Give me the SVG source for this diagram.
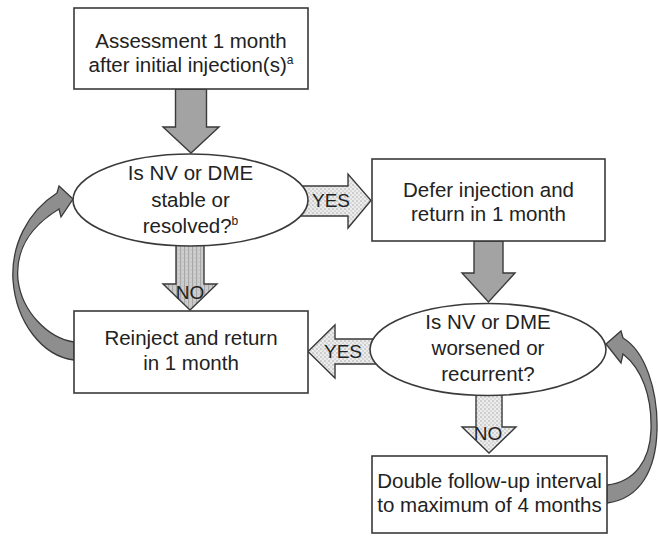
<svg xmlns="http://www.w3.org/2000/svg" width="658" height="536" viewBox="0 0 658 536">
<defs>
<style>
.box{fill:#fff;stroke:#3a3a3a;stroke-width:1.6}
.ell{fill:#fff;stroke:#3a3a3a;stroke-width:1.6}
.t{font-family:"Liberation Sans",Arial,sans-serif;font-size:20.5px;fill:#222;text-anchor:middle}
.lbl{font-family:"Liberation Sans",Arial,sans-serif;font-size:19px;fill:#222;text-anchor:middle}
.sup{font-size:12px}
.main{fill:#a3a3a3;stroke:#3a3a3a;stroke-width:1.4;stroke-linejoin:miter}
.curve{fill:#8e8e8e;stroke:#3a3a3a;stroke-width:1.3;stroke-linejoin:miter}
.dot{fill:url(#dots);stroke:#3a3a3a;stroke-width:1.4}
.stripe{fill:url(#stripes);stroke:#3a3a3a;stroke-width:1.4}
</style>
<pattern id="dots" width="4" height="4" patternUnits="userSpaceOnUse">
<rect width="4" height="4" fill="#ececec"/>
<circle cx="1" cy="1" r="0.7" fill="#9a9a9a"/>
<circle cx="3" cy="3" r="0.7" fill="#b5b5b5"/>
</pattern>
<pattern id="stripes" width="4" height="4" patternUnits="userSpaceOnUse">
<rect width="4" height="4" fill="#cfcfcf"/>
<rect width="1.2" height="4" fill="#a8a8a8"/>
<circle cx="3" cy="2" r="0.6" fill="#b0b0b0"/>
</pattern>
</defs>
<rect width="658" height="536" fill="#fff"/>
<g id="connectors">
<path class="main" d="M175.5,89 L206.5,89 L206.5,127 L219,127 L191,153 L163,127 L175.5,127 Z"/>
<path class="main" d="M474,241 L503,241 L503,273 L515,273 L488.5,302 L462,273 L474,273 Z"/>
<path class="dot" d="M300,186 L348,186 L348,174 L371,200.5 L348,228 L348,216 L300,216 Z"/>
<path class="dot" d="M385,339 L335,339 L335,325 L308,351.5 L335,378 L335,364 L385,364 Z"/>
<path class="stripe" d="M176,235 L204,235 L204,284 L217,284 L190,310 L163,284 L176,284 Z"/>
<path class="dot" d="M476,385 L502,385 L502,427 L516,427 L489,453 L462,427 L476,427 Z"/>
<path class="curve" d="M73,199 L59,186 L57,193 C27,212 11,246 13,280 C16,322 42,356 74,360 L74,342 C48,338 22,312 18,280 C15,250 31,226 59,209 L61,217 Z"/>
<path class="curve" d="M606,344 L621,331 L623,338 C645,351 658,390 657,430 C656,470 640,499 607,503 L607,485 C635,482 650,460 651,430 C652,396 642,369 623,354 L621,363 Z"/>
</g>
<g id="n_assess">
<rect class="box" x="74" y="8" width="234" height="81"/>
<text class="t" x="191" y="48">Assessment 1 month</text>
<text class="t" x="191" y="72">after initial injection(s)<tspan class="sup" dy="-8">a</tspan></text>
</g>
<g id="n_stable">
<ellipse class="ell" cx="190.5" cy="200" rx="117.5" ry="46"/>
<text class="t" x="190.5" y="180">Is NV or DME</text>
<text class="t" x="190.5" y="207">stable or</text>
<text class="t" x="190.5" y="233">resolved?<tspan class="sup" dy="-8">b</tspan></text>
</g>
<g id="n_defer">
<rect class="box" x="372" y="159" width="233" height="82"/>
<text class="t" x="488.5" y="197">Defer injection and</text>
<text class="t" x="488.5" y="221">return in 1 month</text>
</g>
<g id="n_reinject">
<rect class="box" x="74" y="311" width="234" height="82"/>
<text class="t" x="191" y="345">Reinject and return</text>
<text class="t" x="191" y="370">in 1 month</text>
</g>
<g id="n_worse">
<ellipse class="ell" cx="488" cy="349.5" rx="118" ry="46"/>
<text class="t" x="488" y="329">Is NV or DME</text>
<text class="t" x="488" y="355">worsened or</text>
<text class="t" x="488" y="381">recurrent?</text>
</g>
<g id="n_double">
<rect class="box" x="372" y="456" width="235" height="77"/>
<text class="t" x="489.5" y="488">Double follow-up interval</text>
<text class="t" x="489.5" y="512">to maximum of 4 months</text>
</g>
<g id="labels">
<text class="lbl" x="331" y="207">YES</text>
<text class="lbl" x="343" y="358">YES</text>
<text class="lbl" x="190" y="299">NO</text>
<text class="lbl" x="488" y="440">NO</text>
</g>
</svg>
